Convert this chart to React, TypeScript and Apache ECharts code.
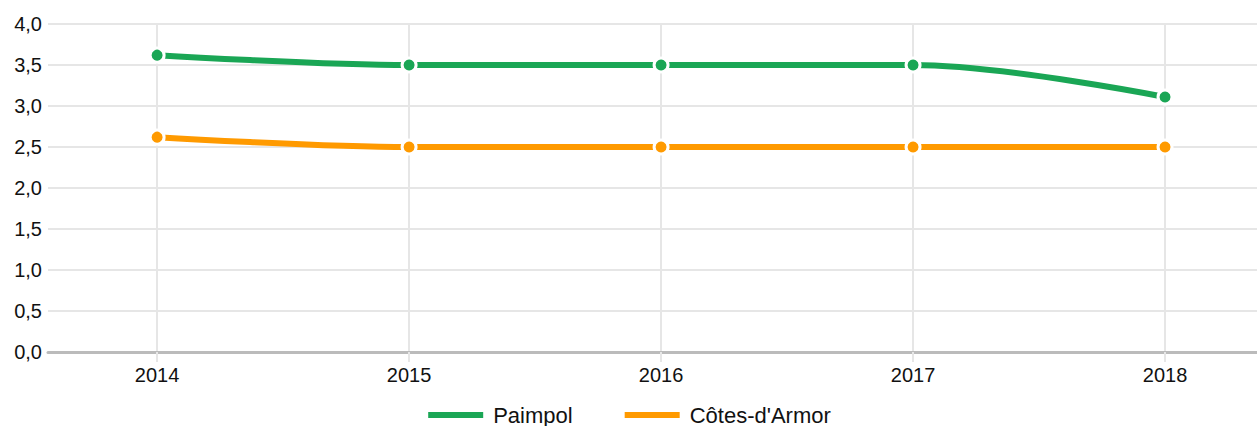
import React, { useEffect, useRef } from "react";
import * as echarts from "echarts";

const years = [2014, 2015, 2016, 2017, 2018];
const paimpol = [3.62, 3.5, 3.5, 3.5, 3.11];
const cotes = [2.62, 2.5, 2.5, 2.5, 2.5];

export default function App() {
  const ref = useRef<HTMLDivElement>(null);
  useEffect(() => {
    document.body.style.margin = "0";
    document.documentElement.style.overflow = "hidden";
    const chart = echarts.init(ref.current!, null, { renderer: "svg" });
    const font = "Liberation Sans, Arial, sans-serif";
    const mk = (name: string, vals: number[], color: string) => ({
      name,
      type: "line",
      smooth: 0.35,
      data: years.map((y, i) => [y, vals[i]]),
      lineStyle: { color, width: 6 },
      itemStyle: { color, borderColor: "#fff", borderWidth: 3 },
      symbol: "circle",
      symbolSize: 14,
      showSymbol: true,
      z: 3,
    });
    chart.setOption({
      animation: false,
      backgroundColor: "#fff",
      grid: { left: 48, right: 0, top: 24, bottom: 74, containLabel: false },
      legend: {
        top: 404,
        left: "center",
        padding: 0,
        itemWidth: 57,
        itemHeight: 8,
        itemGap: 50,
        icon: "rect",
        textStyle: { fontFamily: font, fontSize: 22, lineHeight: 22, color: "#111", padding: [0, 0, 0, 4] },
        data: ["Paimpol", "Côtes-d'Armor"],
      },
      xAxis: {
        type: "value",
        min: 2013.567,
        max: 2018.365,
        axisLine: { show: true, lineStyle: { color: "#bbb", width: 3 } },
        axisTick: { show: true, length: 10, lineStyle: { color: "#e6e6e6", width: 2 }, customValues: years },
        axisLabel: {
          customValues: years,
          formatter: (v: number) => String(v),
          fontFamily: font,
          fontSize: 20,
          color: "#111",
          margin: 13,
        },
        splitLine: { show: true, lineStyle: { color: "#e6e6e6", width: 2 } },
      },
      yAxis: {
        type: "value",
        min: 0,
        max: 4,
        interval: 0.5,
        axisLine: { show: false },
        axisTick: { show: false },
        axisLabel: {
          formatter: (v: number) => v.toFixed(1).replace(".", ","),
          fontFamily: font,
          fontSize: 20,
          color: "#111",
          margin: 6,
        },
        splitLine: { lineStyle: { color: "#e6e6e6", width: 2 } },
      },
      series: [mk("Paimpol", paimpol, "#1aa655"), mk("Côtes-d'Armor", cotes, "#ff9a00")],
    });
    return () => chart.dispose();
  }, []);
  return <div ref={ref} style={{ width: 1257, height: 426 }} />;
}
